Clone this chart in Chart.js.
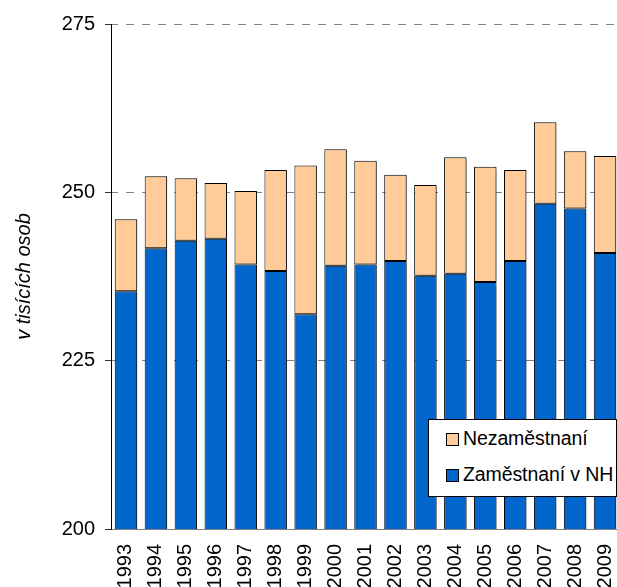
<!DOCTYPE html>
<html>
<head>
<meta charset="utf-8">
<script src="https://cdn.jsdelivr.net/npm/chart.js@4"></script>
<style>
html,body{margin:0;padding:0;background:#fff;overflow:hidden;width:617px;height:587px;}
#wrap{position:relative;width:617px;height:587px;overflow:hidden;}
canvas{position:absolute;left:0;top:0;}
#legend{position:absolute;left:428px;top:419px;width:189px;height:78px;box-sizing:border-box;border:1px solid #000;background:#fff;font-family:"Liberation Sans",Arial,sans-serif;font-size:19.5px;color:#000;}
.item{position:absolute;left:17px;white-space:nowrap;}
.sw{position:absolute;left:0;width:13px;height:13px;box-sizing:border-box;border:1px solid #000;}
.lt{position:absolute;left:17px;line-height:20px;letter-spacing:-0.1px;}
</style>
</head>
<body>
<div id="wrap">
<canvas id="c" width="621" height="600"></canvas>
<div id="legend"></div>
</div>
<script>
const years = ['1993','1994','1995','1996','1997','1998','1999','2000','2001','2002','2003','2004','2005','2006','2007','2008','2009'];
const employed = [235.3, 241.7, 242.8, 243.1, 239.3, 238.3, 231.9, 239.1, 239.3, 239.8, 237.6, 237.9, 236.7, 239.8, 248.3, 247.6, 241.0];
const unemployed = [10.7, 10.7, 9.3, 8.3, 10.9, 15.0, 22.1, 17.3, 15.4, 12.8, 13.5, 17.3, 17.1, 13.5, 12.1, 8.5, 14.4];
const yTicks = [200, 225, 250, 275];
const seriesNames = ['Zaměstnaní v NH', 'Nezaměstnaní'];
const axisTitle = 'v tisících osob';

const FONT = '"Liberation Sans", Arial, sans-serif';

const shadowPlugin = {
  id: 'barShadow',
  beforeDatasetsDraw(chart) {
    const ctx = chart.ctx;
    ctx.save();
    ctx.shadowColor = 'rgba(0,0,0,0.35)';
    ctx.shadowOffsetX = 2;
    ctx.shadowOffsetY = 1;
    ctx.shadowBlur = 1;
  },
  afterDatasetsDraw(chart) {
    chart.ctx.restore();
  }
};

const chart = new Chart(document.getElementById('c'), {
  type: 'bar',
  data: {
    labels: years,
    datasets: [
      { label: seriesNames[0], data: employed, backgroundColor: '#0066CC', borderColor: '#000', borderWidth: 1, borderSkipped: false, barPercentage: 0.75, categoryPercentage: 1 },
      { label: seriesNames[1], data: unemployed, backgroundColor: '#FFCC99', borderColor: '#000', borderWidth: 1, borderSkipped: false, barPercentage: 0.75, categoryPercentage: 1 }
    ]
  },
  options: {
    responsive: false,
    animation: false,
    devicePixelRatio: 1,
    layout: { padding: { top: 24, right: 1, left: 0, bottom: 0 } },
    plugins: { legend: { display: false }, tooltip: { enabled: false } },
    scales: {
      x: {
        stacked: true,
        grid: { display: false, drawTicks: false },
        border: { display: true, color: '#808080', width: 1 },
        ticks: { minRotation: 90, maxRotation: 90, autoSkip: false, padding: 15, color: '#000', font: { family: FONT, size: 20 } },
        afterFit(s) { s.height = 71; s.paddingLeft = 0; s.paddingRight = 0; }
      },
      y: {
        stacked: true,
        min: 200, max: 275,
        afterBuildTicks(s) { s.ticks = yTicks.map(v => ({ value: v })); },
        grid: { color: '#808080', lineWidth: 1, tickLength: 6, drawTicks: true, tickColor: '#333', tickBorderDash: [] },
        border: { display: true, color: '#000', width: 1, dash: [8, 8], dashOffset: 2 },
        ticks: { padding: 10, color: '#000', font: { family: FONT, size: 20 } },
        title: { display: true, text: axisTitle, color: '#000', font: { family: FONT, size: 20, style: 'italic' }, padding: { top: 12, bottom: 4 } },
        afterFit(s) { s.width = 111; }
      }
    }
  },
  plugins: [shadowPlugin]
});

// HTML legend built from datasets (reversed order like the reference)
const legend = document.getElementById('legend');
const tops = [13, 49];
chart.data.datasets.slice().reverse().forEach((ds, i) => {
  const it = document.createElement('div');
  it.className = 'item';
  it.style.top = tops[i] + 'px';
  const sw = document.createElement('div');
  sw.className = 'sw';
  sw.style.background = ds.backgroundColor;
  sw.style.top = '0px';
  const lt = document.createElement('div');
  lt.className = 'lt';
  lt.style.top = '-5px';
  lt.textContent = ds.label;
  it.appendChild(sw); it.appendChild(lt);
  legend.appendChild(it);
});
</script>
</body>
</html>
